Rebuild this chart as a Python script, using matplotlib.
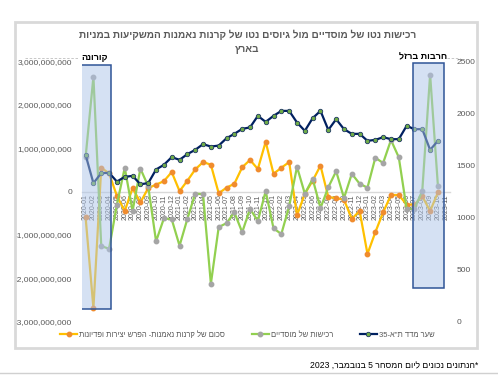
import re
import numpy as np
import matplotlib
matplotlib.use('Agg')
import matplotlib.pyplot as plt
from matplotlib.patches import Rectangle
from matplotlib.lines import Line2D
from matplotlib.ticker import FuncFormatter, MultipleLocator

plt.rcParams['font.family'] = ['Liberation Sans', 'DejaVu Sans']

# נתונים (מיליארדי ש"ח בציר השמאלי, נקודות מדד בציר הימני)
months = [f'{y}-{m:02d}' for y in range(2020, 2024) for m in range(1, 13)][:47]

funds_bn = [-0.59, -2.69, 0.55, 0.42, -0.10, -0.45, 0.08, -0.25, 0.08, 0.16, 0.24, 0.45,
            0.01, 0.25, 0.51, 0.68, 0.62, -0.04, 0.09, 0.18, 0.56, 0.73, 0.52, 1.15,
            0.41, 0.55, 0.68, -0.55, -0.05, 0.25, 0.60, -0.13, -0.15, -0.19, -0.63, -0.45,
            -1.44, -0.94, -0.48, -0.08, -0.08, -0.30, -0.30, -0.11, -0.45, -0.02]

inst_bn = [0.79, 2.65, -1.26, -1.32, -0.30, 0.55, -0.45, 0.53, 0.12, -1.15, -0.62, -0.64,
           -1.25, -0.63, -0.05, -0.06, -2.13, -0.82, -0.73, -0.48, -0.94, -0.40, -0.68, 0.01,
           -0.85, -0.98, -0.34, 0.57, -0.05, 0.29, -0.38, 0.10, 0.47, -0.15, 0.41, 0.18,
           0.09, 0.78, 0.66, 1.19, 0.79, -0.40, -0.40, 0.02, 2.70, 0.12]

ta35 = [1603, 1331, 1427, 1430, 1346, 1391, 1401, 1320, 1331, 1462, 1507, 1581,
        1555, 1610, 1651, 1706, 1683, 1692, 1763, 1805, 1853, 1867, 1978, 1920,
        1978, 2026, 2026, 1914, 1834, 1956, 2026, 1843, 1946, 1850, 1805, 1805,
        1738, 1747, 1773, 1754, 1754, 1882, 1850, 1850, 1651, 1738]

title_txt = 'רכישות נטו של מוסדיים מול גיוסים נטו של קרנות נאמנות המשקיעות במניות'
title_txt2 = 'בארץ'
lbl_funds = 'סכום של קרנות נאמנות- הפרש יצירות ופדיונות'
lbl_inst = 'רכישות של מוסדיים'
lbl_ta = 'שער מדד ת"א-35'
note_txt = '*הנתונים נכונים ליום המסחר 5 בנובמבר, 2023'


def heb(s):
    # היפוך לתצוגה מימין לשמאל, מספרים נשארים בסדרם
    r = s[::-1]
    return re.sub(r'\d+', lambda m: m.group(0)[::-1], r)


funds = np.array(funds_bn) * 1e9
inst = np.array(inst_bn) * 1e9
x = np.arange(len(funds))
grey = '#595959'

fig = plt.figure(figsize=(4.98, 3.75), dpi=100)
ax = fig.add_axes([0.164, 0.1427, 0.739, 0.693])
ax2 = ax.twinx()

l1, = ax.plot(x, funds, color='#FFC000', lw=1.6, marker='o', ms=3.2,
              mfc='#F08C2E', mec='#F08C2E', zorder=3)
l2, = ax.plot(x, inst, color='#92D050', lw=1.6, marker='o', ms=3.2,
              mfc='#A5A5A5', mec='#A5A5A5', zorder=3)
l3, = ax2.plot(x, ta35, color='#002060', lw=1.6, marker='o', ms=3.2,
               mfc='#70AD47', mec='#1F3864', mew=0.6, zorder=3)

ax.set_xlim(-0.5, 46.5)
ax.set_ylim(-3e9, 3e9)
ax2.set_ylim(0, 2500)

ax.yaxis.set_major_locator(MultipleLocator(1e9))
ax.yaxis.set_major_formatter(FuncFormatter(lambda v, p: f'{v:,.0f}'))
ax2.yaxis.set_major_locator(MultipleLocator(500))

for s in ['top', 'left', 'right']:
    ax.spines[s].set_visible(False)
    ax2.spines[s].set_visible(False)
ax2.spines['bottom'].set_visible(False)
ax.spines['bottom'].set_position(('data', 0))
ax.spines['bottom'].set_color('#d9d9d9')
ax.spines['bottom'].set_linewidth(1)

ax.set_xticks(range(len(months)))
ax.set_xticklabels(months, rotation=90)
ax.tick_params(axis='x', length=0, pad=2, labelsize=5, labelcolor=grey)
ax.tick_params(axis='y', length=0, pad=7, labelsize=6, labelcolor=grey)
ax2.tick_params(axis='y', length=0, pad=5, labelsize=6, labelcolor=grey)

# אזורים מסומנים
box_fc = (0.68, 0.77, 0.91, 0.5)
ax2.add_patch(Rectangle((-0.82, -2.72e9), 4.1, 5.64e9, transform=ax.transData,
                        facecolor=box_fc, edgecolor='#2F5597', lw=1.1, zorder=5))
ax2.add_patch(Rectangle((41.8, -2.22e9), 4.0, 5.19e9, transform=ax.transData,
                        facecolor=box_fc, edgecolor='#2F5597', lw=1.1, zorder=5))

fig.text(95 / 498, 1 - 57 / 375, heb('קורונה'), ha='center', va='center',
         fontsize=6.5, fontweight='bold')
fig.text(423 / 498, 1 - 57 / 375, heb('חרבות ברזל'), ha='center', va='center',
         fontsize=6.5, fontweight='bold')
fig.lines.append(Line2D([25 / 498, 78 / 498], [1 - 58 / 375] * 2, transform=fig.transFigure,
                        color='#bfbfbf', lw=0.6, ls=(0, (3, 2))))
fig.lines.append(Line2D([447 / 498, 460 / 498], [1 - 58 / 375] * 2, transform=fig.transFigure,
                        color='#bfbfbf', lw=0.6, ls=(0, (3, 2))))

# כותרת
fig.text(0.497, 1 - 35 / 375, heb(title_txt), ha='center', va='center',
         fontsize=7.2, fontweight='bold', color=grey)
fig.text(0.497, 1 - 49 / 375, heb(title_txt2), ha='center', va='center',
         fontsize=7.2, fontweight='bold', color=grey)

fig.legend([l1, l2, l3], [heb(lbl_funds), heb(lbl_inst), heb(lbl_ta)],
           loc='center', bbox_to_anchor=(0.497, 1 - 335 / 375), ncol=3, frameon=False,
           fontsize=5.5, handlelength=2.2, columnspacing=3.5, handletextpad=0.3,
           labelcolor=grey)

# מסגרת והערה
fig.patches.append(Rectangle((15 / 498, 1 - 348 / 375), 462 / 498, 326 / 375,
                             transform=fig.transFigure, fill=False,
                             edgecolor='#d9d9d9', lw=2))
fig.lines.append(Line2D([0, 1], [1 - 373 / 375] * 2, transform=fig.transFigure,
                        color='#d0d0d0', lw=1))
fig.text(478 / 498, 1 - 365 / 375, heb(note_txt), ha='right', va='center', fontsize=6.2)

fig.savefig('out.png', dpi=100)
